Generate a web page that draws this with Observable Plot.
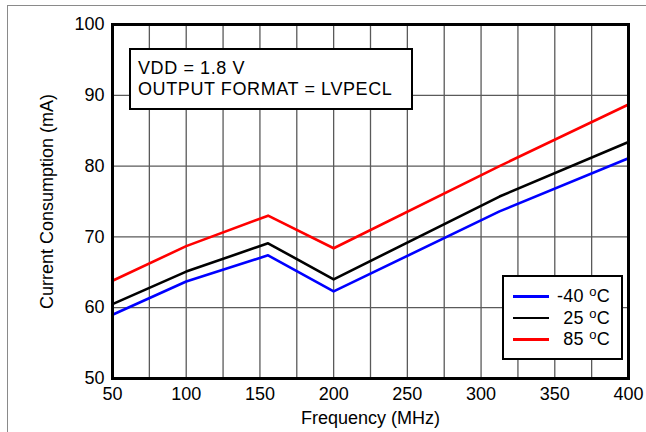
<!DOCTYPE html>
<html>
<head>
<meta charset="utf-8">
<script src="https://cdn.jsdelivr.net/npm/d3@7"></script>
<script src="https://cdn.jsdelivr.net/npm/@observablehq/plot@0.6"></script>
<style>
  body { margin: 0; background: #fff; font-family: "Liberation Sans", Arial, sans-serif; }
  #wrap { position: relative; width: 646px; height: 432px; overflow: hidden; }
  #outer { position: absolute; left: 7px; top: 5px; width: 700px; height: 500px;
           border-top: 1.5px solid #8a8a8a; border-left: 1.5px solid #8a8a8a; }
  #chart { position: absolute; left: 0; top: 0; }
  .box { position: absolute; background: #fff; border: 2.5px solid #000; box-sizing: border-box; color: #000; }
  #note { left: 129px; top: 48px; width: 284px; height: 62px; padding: 8px 0 0 7px;
          font-size: 18px; line-height: 21px; letter-spacing: 0.6px; white-space: nowrap; }
  #legend { left: 502px; top: 275px; width: 121px; height: 85px; font-size: 18px; }
  .row { position: absolute; left: 0; width: 100%; height: 22px; }
  .sw { position: absolute; left: 9px; width: 36px; top: 10px; height: 2.5px; }
  .lab { position: absolute; right: 11px; top: 0; white-space: nowrap; line-height: 22px; letter-spacing: 0.3px; }
  .lab sup { font-size: 13px; vertical-align: 0; position: relative; top: -6px; }
</style>
</head>
<body>
<div id="wrap">
  <div id="outer"></div>
  <div id="chart"></div>
  <div id="note" class="box">VDD = 1.8 V<br>OUTPUT FORMAT = LVPECL</div>
  <div id="legend" class="box"></div>
</div>
<script>
// ---- data ----
const freq = [50, 100, 155.52, 200, 312.5, 400];
const seriesNames = ["-40", "25", "85"];
const seriesColors = ["#0000ff", "#000000", "#ff0000"];
const currentM40 = [59.0, 63.7, 67.4, 62.3, 73.6, 81.1];
const current25  = [60.5, 65.1, 69.1, 64.0, 75.7, 83.4];
const current85  = [63.8, 68.7, 73.0, 68.4, 80.0, 88.7];
const xTicks = [50, 100, 150, 200, 250, 300, 350, 400];
const xGrid = [75, 100, 125, 150, 175, 200, 225, 250, 275, 300, 325, 350, 375];
const yTicks = [50, 60, 70, 80, 90, 100];
const yGrid = [60, 70, 80, 90];

const allSeries = [currentM40, current25, current85];
const data = [];
allSeries.forEach((vals, s) => {
  vals.forEach((v, i) => data.push({f: freq[i], c: v, s: seriesNames[s]}));
});

const chart = Plot.plot({
  width: 646,
  height: 432,
  marginLeft: 112,
  marginRight: 18,
  marginTop: 24,
  marginBottom: 54,
  style: {fontFamily: '"Liberation Sans", Arial, sans-serif', fontSize: "18px", color: "#000", background: "transparent"},
  x: {domain: [50, 400], ticks: xTicks, tickSize: 0, tickPadding: 9, label: "Frequency (MHz)", labelAnchor: "center", labelOffset: 45, labelArrow: "none"},
  y: {domain: [50, 100], ticks: yTicks, tickSize: 0, tickPadding: 8, label: "Current Consumption (mA)", labelAnchor: "center", labelOffset: 72, labelArrow: "none"},
  color: {domain: seriesNames, range: seriesColors},
  marks: [
    Plot.ruleX(xGrid, {stroke: "#5a5a5a", strokeWidth: 1.3}),
    Plot.ruleY(yGrid, {stroke: "#5a5a5a", strokeWidth: 1.3}),
    Plot.line(data, {x: "f", y: "c", z: "s", stroke: "s", strokeWidth: 2.6}),
    Plot.frame({stroke: "#000", strokeWidth: 3})
  ]
});
document.getElementById("chart").appendChild(chart);

// legend
const legend = document.getElementById("legend");
seriesNames.forEach((name, i) => {
  const row = document.createElement("div");
  row.className = "row";
  row.style.top = (8 + i * 21.5) + "px";
  const sw = document.createElement("div");
  sw.className = "sw";
  sw.style.background = seriesColors[i];
  const lab = document.createElement("div");
  lab.className = "lab";
  lab.innerHTML = name + " <sup>o</sup>C";
  row.appendChild(sw);
  row.appendChild(lab);
  legend.appendChild(row);
});
</script>
</body>
</html>
